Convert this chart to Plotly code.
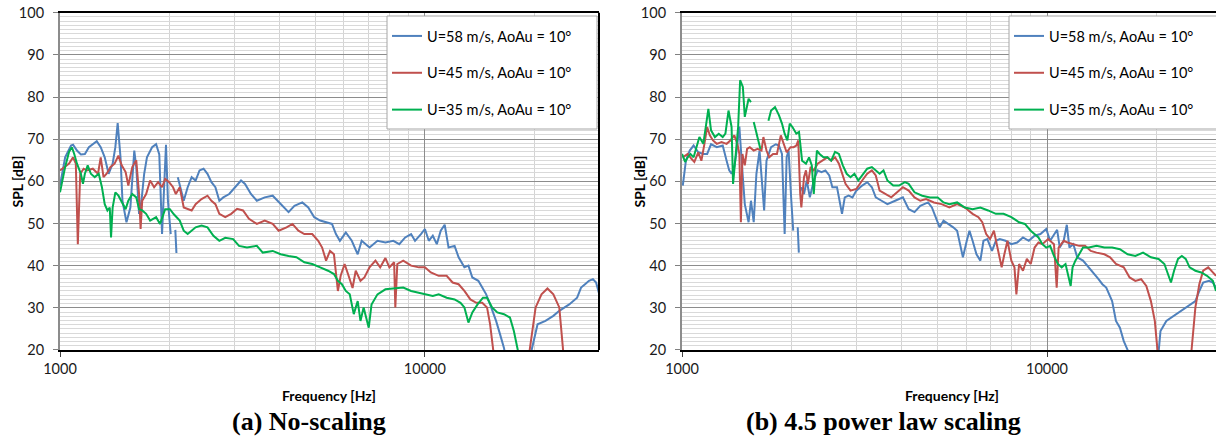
import plotly.graph_objects as go

# ---------------- data ----------------
series_names = ["U=58 m/s, AoAu = 10°", "U=45 m/s, AoAu = 10°", "U=35 m/s, AoAu = 10°"]
series_colors = ["#4f81bd", "#c0504d", "#00b050"]

# (a) No-scaling
a_u58_f = [1000, 1033, 1072, 1086, 1113, 1141, 1170, 1200, 1261, 1293, 1326, 1359, 1394, 1418, 1439, 1465, 1483, 1521, 1559, 1598, 1618, 1647, 1672, 1701, 1731, 1788, 1834, 1871, 1904, 1927, 1952, 1976, 2011, None, 2070, 2085, None,
           2103, 2145, 2183, 2238, 2295, 2353, 2412, 2474, 2536, 2600, 2666, 2733, 2802, 2909, 3020, 3134, 3214, 3336, 3463, 3640, 3827, 4024, 4230, 4390, 4614, 4790, 4974, 5164, 5360, 5564, 5704, 5848, 6071, 6304, 6544, 6709, 7051, 7413, 7795, 8194, 8507, 8831, 9165, 9396, 9754, 10000, 10250, 10510, 10780, 11050, 11330, 11610, 12060, 12370, 12830, 13160, 13490, 14010, 14360, 14720, 15090, 15670, 16070, 16470, 16900, 19370, 19610, 20360, 21400, 22490, 23350, 24860, 26130, 26790, 27470, 28160, 28870, 29450, 30050]
a_u58_db = [59.0, 65.7, 68.5, 68.7, 67.3, 66.4, 66.5, 68.1, 69.5, 68.1, 65.7, 61.8, 64.2, 68.1, 73.8, 65.7, 55.4, 50.3, 53.8, 67.3, 63.4, 52.3, 55.4, 61.8, 65.7, 68.1, 68.8, 66.4, 47.5, 57.0, 68.7, 55.4, 47.5, None, 48.5, 43.0, None,
            61.0, 57.8, 55.4, 58.6, 61.0, 60.2, 62.6, 63.0, 61.8, 59.8, 58.6, 55.4, 56.2, 57.0, 58.6, 60.2, 59.4, 57.0, 55.4, 56.2, 56.6, 54.6, 52.7, 54.2, 55.0, 53.8, 51.5, 50.7, 50.3, 49.9, 47.5, 45.9, 47.9, 45.9, 42.7, 45.9, 44.3, 45.9, 45.5, 45.9, 45.1, 46.7, 47.5, 45.9, 47.5, 48.7, 45.9, 47.1, 45.1, 48.3, 49.7, 44.3, 44.7, 42.0, 39.6, 40.0, 37.2, 36.4, 34.8, 33.2, 30.8, 26.9, 23.7, 20.5, 15.0, 15.0, 20.0, 26.1, 26.9, 28.1, 29.3, 30.8, 32.4, 34.8, 35.6, 36.4, 36.8, 36.0, 33.2]

a_u45_f = [1000, 1033, 1059, 1086, 1105, 1119, 1136, 1161, 1185, 1230, 1271, 1293, 1316, 1342, 1376, 1411, 1446, 1476, 1513, 1539, 1578, 1618, 1647, 1663, 1680, 1722, 1766, 1811, 1857, 1904, 1942, 1991, 2041, 2077, 2129, 2183, 2238, 2295, 2353, 2443, 2536, 2600, 2666, 2733, 2837, 2945, 3057, 3174, 3295, 3463, 3640, 3827, 3974, 4177, 4335, 4501, 4673, 4912, 5100, 5228, 5360, 5495, 5633, 5775, 5877, 6025, 6178, 6335, 6463, 6659, 6827, 7051, 7320, 7543, 7795, 7992, 8235, 8297, 8402, 8722, 9165, 9632, 10000, 10380, 10910, 11470, 11910, 12370, 12830, 13320, 13830, 14360, 14800, 15090, 15390, 15670, 19100, 19370, 20110, 20870, 21670, 22490, 23350, 23650, 23940, 24200]
a_u45_db = [62.6, 63.4, 64.2, 65.7, 64.2, 45.1, 61.8, 63.0, 62.6, 63.0, 61.8, 65.7, 61.0, 61.8, 63.4, 64.2, 66.1, 63.8, 62.2, 59.0, 63.4, 65.0, 57.0, 48.7, 55.4, 57.0, 60.2, 58.6, 59.8, 58.6, 60.6, 59.8, 58.6, 57.0, 58.6, 53.8, 53.4, 53.1, 54.6, 55.8, 56.6, 55.4, 54.6, 52.3, 51.5, 52.3, 53.5, 53.1, 51.1, 49.9, 50.7, 49.9, 48.3, 49.1, 49.9, 48.3, 47.5, 47.5, 45.9, 44.3, 41.2, 43.5, 42.7, 34.0, 37.6, 40.4, 37.6, 34.7, 38.8, 36.4, 37.2, 39.6, 41.2, 39.6, 41.8, 39.6, 40.8, 30.1, 40.4, 41.2, 40.0, 39.6, 39.6, 38.4, 37.6, 37.6, 36.0, 35.6, 34.0, 32.0, 31.2, 31.2, 30.1, 26.1, 20.0, 15.0, 15.0, 20.0, 30.1, 33.2, 34.6, 33.2, 30.1, 24.5, 19.8, 15.0]

a_u35_f = [1000, 1033, 1059, 1078, 1094, 1113, 1141, 1156, 1170, 1191, 1215, 1245, 1277, 1303, 1326, 1349, 1369, 1380, 1394, 1418, 1446, 1483, 1513, 1539, 1578, 1618, 1647, 1680, 1722, 1766, 1834, 1880, 1942, 2001, 2051, 2129, 2183, 2238, 2295, 2353, 2443, 2536, 2633, 2733, 2837, 2982, 3095, 3254, 3463, 3595, 3827, 4024, 4230, 4445, 4673, 4912, 5164, 5427, 5633, 5775, 5921, 6071, 6224, 6383, 6544, 6659, 6793, 7016, 7140, 7413, 7795, 8194, 8722, 9165, 9632, 10000, 10510, 10910, 11470, 12060, 12520, 12830, 13160, 13490, 13940, 14430, 14800, 15280, 15790, 16470, 17100, 17530, 17970, 18200]
a_u35_db = [57.4, 63.4, 67.0, 68.1, 66.5, 64.2, 61.8, 59.4, 61.8, 63.8, 61.8, 61.0, 61.8, 58.6, 54.6, 53.1, 53.8, 46.7, 53.8, 57.4, 56.6, 54.6, 53.4, 55.4, 57.0, 56.2, 53.4, 53.1, 52.3, 50.7, 51.5, 49.9, 53.4, 53.4, 52.2, 50.7, 48.3, 47.5, 48.3, 49.1, 49.5, 49.1, 47.1, 45.9, 46.6, 46.3, 44.7, 44.3, 44.7, 43.1, 43.5, 42.7, 42.3, 42.0, 40.8, 40.4, 39.6, 38.8, 38.0, 36.4, 35.6, 34.0, 33.2, 28.5, 31.6, 26.9, 30.1, 25.3, 30.8, 33.2, 34.4, 34.6, 34.8, 34.0, 33.6, 33.2, 32.8, 33.2, 32.4, 32.0, 31.2, 30.1, 26.5, 28.9, 30.8, 32.4, 32.4, 30.1, 28.9, 28.5, 27.7, 24.5, 20.0, 15.0]

# (b) 4.5 power law scaling
b_u58_f = [1005, 1025, 1050, 1076, 1108, 1144, 1172, 1201, 1246, 1293, 1325, 1347, 1367, 1391, 1408, 1436, 1461, 1486, 1522, 1545, 1572, 1599, 1631, 1651, 1679, 1704, 1754, 1807, 1843, 1879, 1911, 1935, 1959, 1993, 2017, None, 2075, 2090, None,
           2118, 2159, 2197, 2240, 2296, 2353, 2411, 2471, 2532, 2582, 2659, 2705, 2744, 2792, 2860, 2931, 3003, 3116, 3217, 3313, 3395, 3522, 3654, 3837, 4029, 4179, 4335, 4496, 4722, 4838, 4958, 5080, 5206, 5374, 5535, 5672, 5783, 5883, 6029, 6132, 6254, 6409, 6568, 6698, 6864, 7068, 7243, 7422, 7698, 7986, 8285, 8593, 8914, 9247, 9594, 9952, 10200, 10450, 10660, 10840, 11110, 11330, 11520, 11810, 12100, 12550, 13020, 13510, 13840, 14180, 14530, 15080, 15450, 15840, 16230, 16630, 17040, 20000, 20220, 20460, 21230, 22290, 23410, 24590, 25500, 26140, 26780, 27780, 28470, 29040]
b_u58_db = [59.0, 64.9, 67.3, 68.5, 66.9, 66.5, 66.5, 68.8, 68.1, 68.5, 64.9, 62.6, 61.8, 63.4, 66.5, 73.0, 63.4, 54.6, 50.3, 55.4, 50.3, 61.8, 67.3, 61.8, 53.1, 64.9, 68.1, 68.8, 68.5, 66.5, 47.5, 65.7, 67.3, 55.4, 48.3, None, 49.1, 43.1, None,
            58.6, 57.0, 60.2, 56.2, 60.2, 62.6, 62.2, 62.6, 61.4, 58.6, 58.6, 55.4, 52.3, 56.2, 56.6, 56.2, 57.8, 59.0, 59.8, 58.6, 56.2, 55.4, 54.6, 55.4, 56.2, 53.4, 52.7, 54.2, 55.0, 53.8, 51.5, 49.1, 50.7, 49.9, 49.1, 48.3, 45.1, 42.0, 45.9, 48.3, 45.9, 42.7, 41.2, 45.9, 46.3, 43.5, 45.9, 46.3, 45.9, 45.1, 45.5, 46.7, 45.9, 47.1, 47.5, 48.7, 45.9, 47.5, 48.5, 44.3, 45.9, 49.7, 44.3, 45.1, 42.0, 41.2, 39.6, 38.0, 36.8, 35.6, 34.8, 31.6, 26.9, 25.3, 22.1, 20.0, 15.0, 15.0, 20.0, 24.5, 26.9, 28.1, 29.3, 30.5, 31.6, 34.0, 36.0, 36.4, 36.0, 34.8]

b_u45_f = [1005, 1037, 1063, 1081, 1108, 1130, 1152, 1172, 1192, 1216, 1246, 1283, 1325, 1357, 1391, 1418, 1436, 1450, 1464, 1486, 1508, 1534, 1572, 1611, 1651, 1671, 1704, 1733, 1776, 1820, 1865, 1897, 1935, 1983, 2022, 2057, 2082, 2108, 2123, 2159, 2186, 2213, 2251, 2296, 2353, 2423, 2502, 2563, 2626, 2691, 2744, 2805, 2895, 3003, 3116, 3217, 3313, 3395, 3479, 3609, 3744, 3884, 4029, 4179, 4335, 4496, 4664, 4898, 5143, 5400, 5672, 5956, 6254, 6488, 6648, 6813, 6982, 7154, 7332, 7513, 7642, 7793, 7986, 8144, 8244, 8386, 8593, 8806, 9024, 9247, 9476, 9712, 10070, 10450, 10630, 10760, 11110, 11380, 11810, 12250, 12710, 13180, 13670, 14360, 14890, 15450, 16230, 16840, 17460, 18110, 18710, 19260, 19740, 20120, 20320, 24700, 24890, 25500, 26140, 26780, 27650, 28470, 29040]
b_u45_db = [65.7, 66.5, 65.3, 64.6, 66.9, 64.9, 68.9, 72.9, 70.9, 69.7, 68.9, 69.3, 68.9, 69.7, 70.9, 68.9, 66.5, 50.3, 66.5, 63.8, 67.7, 68.1, 67.3, 67.7, 67.3, 70.5, 67.3, 65.7, 66.5, 66.5, 70.9, 68.9, 66.9, 68.1, 68.1, 68.5, 69.7, 57.0, 53.8, 61.0, 62.6, 59.4, 63.4, 62.6, 64.2, 64.9, 65.7, 64.9, 65.7, 64.2, 61.8, 59.4, 57.8, 58.2, 60.2, 61.8, 62.6, 61.4, 57.8, 57.0, 56.2, 57.4, 58.6, 57.8, 56.2, 55.4, 55.8, 55.0, 54.6, 53.8, 54.6, 53.8, 52.3, 51.5, 50.3, 47.5, 46.3, 48.3, 44.3, 39.6, 42.7, 45.9, 41.2, 39.6, 33.2, 40.4, 38.8, 41.6, 40.4, 44.3, 45.5, 45.1, 46.3, 45.1, 34.8, 44.3, 45.9, 45.5, 45.1, 44.7, 44.7, 43.5, 43.1, 42.7, 42.0, 40.4, 39.6, 37.2, 36.4, 36.8, 35.2, 31.6, 26.9, 20.0, 15.0, 15.0, 20.0, 30.1, 35.6, 38.8, 39.6, 38.4, 37.6]

b_u35_f = [1000, 1020, 1037, 1055, 1076, 1097, 1116, 1144, 1164, 1181, 1201, 1231, 1261, 1293, 1315, 1341, 1367, 1380, 1401, 1425, 1443, 1468, 1486, 1508, 1522, 1545, None, 1572, 1611, 1640, None,
           1725, 1754, 1798, 1843, 1879, 1911, 1944, 1973, 2007, 2057, 2092, 2133, 2186, 2229, 2268, 2296, 2342, 2382, 2441, 2502, 2563, 2626, 2691, 2758, 2826, 2895, 2967, 3041, 3116, 3217, 3313, 3395, 3479, 3565, 3654, 3790, 3932, 4079, 4179, 4335, 4551, 4779, 5018, 5206, 5400, 5672, 5956, 6254, 6568, 6897, 7243, 7605, 7986, 8386, 8699, 9024, 9247, 9476, 9712, 9952, 10200, 10450, 10710, 10970, 11240, 11470, 11610, 11750, 11960, 12250, 12550, 13020, 13670, 14360, 15080, 15840, 16630, 17460, 18330, 19260, 20220, 20970, 21490, 21860, 22290, 22850, 23410, 23990, 24590, 25500, 26460, 27440, 28470, 29040]
b_u35_db = [66.5, 64.6, 65.7, 66.5, 65.7, 68.1, 70.5, 68.9, 72.9, 77.2, 72.1, 70.5, 71.3, 70.5, 71.3, 76.8, 72.9, 59.4, 65.7, 72.9, 84.0, 82.4, 75.3, 77.6, 79.6, 78.8, None, 74.1, 70.5, 67.7, None,
            74.4, 76.8, 77.6, 75.7, 73.7, 71.3, 69.7, 73.7, 72.9, 71.3, 71.7, 64.9, 64.2, 65.7, 63.8, 57.0, 67.3, 66.5, 65.7, 65.7, 64.9, 67.0, 66.5, 63.8, 61.8, 61.0, 61.8, 60.2, 61.4, 63.0, 63.4, 62.6, 61.8, 62.6, 60.2, 59.0, 59.0, 59.8, 59.4, 57.4, 56.6, 56.2, 56.2, 55.0, 54.6, 55.0, 53.8, 53.4, 53.8, 53.1, 52.3, 52.3, 51.5, 50.3, 49.9, 48.3, 47.5, 46.7, 45.1, 44.3, 44.7, 42.3, 40.4, 39.6, 40.4, 37.2, 35.2, 39.6, 41.2, 42.7, 44.3, 44.3, 44.7, 44.3, 44.3, 43.9, 42.7, 42.3, 43.1, 42.0, 41.6, 40.4, 38.0, 36.0, 38.8, 41.6, 42.3, 41.6, 39.6, 38.8, 38.4, 37.6, 36.4, 34.0]

x_tick_vals = [1000, 10000]
x_tick_text = ["1000", "10000"]
x_minor_vals = [2000, 3000, 4000, 5000, 6000, 7000, 8000, 9000, 20000, 30000]
y_tick_vals = [20, 30, 40, 50, 60, 70, 80, 90, 100]

captions = ["<b>(a) No-scaling</b>", "<b>(b) 4.5 power law scaling</b>"]

# ---------------- figure ----------------
W, H = 1216, 437
fig = go.Figure()

panels = [
    ("x", "y", "legend", [(a_u58_f, a_u58_db), (a_u45_f, a_u45_db), (a_u35_f, a_u35_db)]),
    ("x2", "y2", "legend2", [(b_u58_f, b_u58_db), (b_u45_f, b_u45_db), (b_u35_f, b_u35_db)]),
]
for xa, ya, lg, data in panels:
    for i, (f, db) in enumerate(data):
        fig.add_trace(go.Scatter(
            x=f, y=db, mode="lines", name=series_names[i],
            line=dict(color=series_colors[i], width=2),
            xaxis=xa, yaxis=ya, legend=lg, legendgroup=lg + str(i),
            connectgaps=False, hoverinfo="skip"))

tick_font = dict(family="Lato", size=14.5, color="#1a1a1a")

def xaxis_cfg(domain, rmax, anchor):
    return dict(
        domain=domain, type="log", range=[3, rmax], anchor=anchor,
        tickmode="array", tickvals=x_tick_vals, ticktext=x_tick_text,
        ticks="outside", ticklen=5, tickcolor="#404040",
        tickfont=tick_font,
        showgrid=True, gridcolor="#8c8c8c", gridwidth=1,
        minor=dict(tickmode="array", tickvals=x_minor_vals, showgrid=True,
                   gridcolor="#d4d4d4", gridwidth=1, ticks=""),
        showline=True, linecolor="black", linewidth=2, mirror=True,
        zeroline=False, fixedrange=True)

def yaxis_cfg(anchor):
    return dict(
        domain=[0.1991, 0.9709], range=[20, 100], anchor=anchor,
        tickmode="array", tickvals=y_tick_vals,
        ticks="outside", ticklen=5, tickcolor="#808080",
        ticklabelstandoff=6,
        tickfont=tick_font,
        showgrid=True, gridcolor="#8c8c8c", gridwidth=1,
        minor=dict(dtick=1, showgrid=True, gridcolor="#d9d9d9", gridwidth=1, ticks=""),
        showline=True, linecolor="#8c8c8c", linewidth=2, mirror=False,
        zeroline=False, fixedrange=True)

legend_common = dict(
    xanchor="left", yanchor="top", y=(H - 20) / H,
    bgcolor="rgba(0,0,0,0)", borderwidth=0,
    font=dict(family="Lato", size=14.5, color="black"),
    traceorder="grouped", tracegroupgap=15)

fig.update_layout(
    width=W, height=H,
    margin=dict(l=0, r=0, t=0, b=0, pad=0, autoexpand=False),
    paper_bgcolor="white", plot_bgcolor="white",
    xaxis=xaxis_cfg([60 / W, 599 / W], 4.4771, "y"),
    yaxis=yaxis_cfg("x"),
    xaxis2=xaxis_cfg([682 / W, 1.0], 4.463, "y2"),
    yaxis2=yaxis_cfg("x2"),
    legend=dict(x=387 / W, **legend_common),
    legend2=dict(x=1009 / W, **legend_common),
    showlegend=True,
)

# right border of the left panel
fig.add_shape(type="line", xref="x domain", yref="y domain", x0=1, x1=1, y0=0, y1=1,
              line=dict(color="black", width=2), layer="above")
# legend frames (white boxes with grey border, as in the reference)
for x0 in (387, 1009):
    fig.add_shape(type="rect", xref="paper", yref="paper",
                  x0=x0 / W, x1=(x0 + 210) / W, y0=(H - 129) / H, y1=(H - 16) / H,
                  line=dict(color="#a6a6a6", width=1), fillcolor="white", layer="above")

title_font = dict(family="Lato", size=14, color="black", weight="bold")
fig.add_annotation(text="Frequency [Hz]", xref="paper", yref="paper", x=329 / W, y=(H - 395) / H,
                   showarrow=False, font=title_font, xanchor="center", yanchor="middle")
fig.add_annotation(text="Frequency [Hz]", xref="paper", yref="paper", x=952 / W, y=(H - 395) / H,
                   showarrow=False, font=title_font, xanchor="center", yanchor="middle")
fig.add_annotation(text="SPL [dB]", xref="paper", yref="paper", x=17 / W, y=(H - 181.5) / H,
                   showarrow=False, font=title_font, textangle=-90, xanchor="center", yanchor="middle")
fig.add_annotation(text="SPL [dB]", xref="paper", yref="paper", x=639 / W, y=(H - 181.5) / H,
                   showarrow=False, font=title_font, textangle=-90, xanchor="center", yanchor="middle")

cap_font = dict(family="Liberation Serif", size=26, color="black")
fig.add_annotation(text=captions[0], xref="paper", yref="paper", x=308.5 / W, y=(H - 421.5) / H,
                   showarrow=False, font=cap_font, xanchor="center", yanchor="middle")
fig.add_annotation(text=captions[1], xref="paper", yref="paper", x=883 / W, y=(H - 421.5) / H,
                   showarrow=False, font=cap_font, xanchor="center", yanchor="middle")

fig.write_html("out.html", config={"displayModeBar": False},
               post_script="document.body.style.margin='0';document.body.style.overflow='hidden';")
